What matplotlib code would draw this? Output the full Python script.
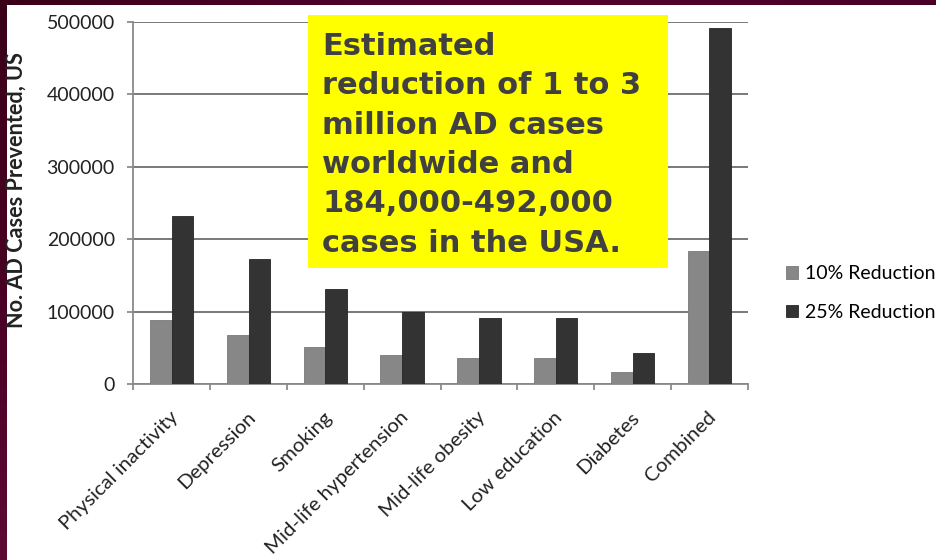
import matplotlib
matplotlib.use('Agg')
import matplotlib.pyplot as plt
import matplotlib.transforms as mtransforms
from matplotlib.patches import Rectangle
import numpy as np

categories = ['Physical inactivity', 'Depression', 'Smoking', 'Mid-life hypertension',
              'Mid-life obesity', 'Low education', 'Diabetes', 'Combined']
reduction_10 = [89000, 68000, 51000, 40000, 36000, 36000, 17000, 184000]
reduction_25 = [232000, 172000, 131000, 99000, 91000, 91000, 43000, 492000]
series_labels = ['10% Reduction', '25% Reduction']
yticks = [0, 100000, 200000, 300000, 400000, 500000]

note_lines = ['Estimated', 'reduction of 1 to 3', 'million AD cases',
              'worldwide and', '184,000-492,000', 'cases in the USA.']

W, H = 936, 560
fig = plt.figure(figsize=(W / 100, H / 100), dpi=100)
fig.patch.set_facecolor('white')

# maroon slide frame along the top and left edge
frame = fig.add_axes([0, 0, 1, 1], zorder=-5)
frame.axis('off')
grad = np.linspace(0, 1, 256).reshape(1, -1)
top_cmap = matplotlib.colors.LinearSegmentedColormap.from_list(
    'top', ['#3a0019', '#55002c', '#4a0026'])
left_cmap = matplotlib.colors.LinearSegmentedColormap.from_list(
    'left', ['#3a0019', '#4a0024', '#5c0a34'])
frame.imshow(grad, extent=(0, W, 5, 0), cmap=top_cmap, aspect='auto')
frame.imshow(grad.T, extent=(0, 7, H, 0), cmap=left_cmap, aspect='auto')
frame.set_xlim(0, W)
frame.set_ylim(H, 0)

ax = fig.add_axes([133.3 / W, 1 - 384 / H, (747.7 - 133.3) / W, (384 - 22) / H])
x = np.arange(len(categories))
bw = 0.282
ax.bar(x - bw / 2, reduction_10, bw, color='#878787', edgecolor='#7a7a7a', lw=0.6,
       label=series_labels[0], zorder=3)
ax.bar(x + bw / 2, reduction_25, bw, color='#333333', edgecolor='#262626', lw=0.6,
       label=series_labels[1], zorder=3)

ax.set_xlim(-0.5, len(categories) - 0.5)
ax.set_ylim(0, 500000)
ax.set_yticks(yticks)
ax.set_yticklabels([str(v) for v in yticks], fontfamily='Lato', fontsize=14, color='#222222')
ax.yaxis.grid(True, color='#555555', lw=1.1, zorder=0)
ax.set_axisbelow(True)

for s in ['top', 'right']:
    ax.spines[s].set_visible(False)
for s in ['left', 'bottom']:
    ax.spines[s].set_color('#8a8a8a')
    ax.spines[s].set_linewidth(1.3)
ax.tick_params(axis='y', length=4.3, width=1.1, color='#777777', pad=9)

# category labels on centres, tick marks on boundaries
ax.set_xticks(x)
ax.set_xticks(np.arange(-0.5, len(categories)), minor=True)
ax.tick_params(axis='x', which='major', length=0, pad=22)
ax.tick_params(axis='x', which='minor', length=4.3, width=1.1, color='#777777')
labels = ax.set_xticklabels(categories, rotation=45, ha='right', va='center',
                            rotation_mode='anchor', fontfamily='Lato', fontsize=14.7,
                            color='#222222')
shift = mtransforms.ScaledTranslation(4 / 100, 0, fig.dpi_scale_trans)
for lab in labels:
    lab.set_transform(lab.get_transform() + shift)

fig.text(16 / W, 1 - 190 / H, 'No. AD Cases Prevented, US', rotation=90,
         ha='center', va='center', fontfamily='Lato', fontweight='bold',
         fontsize=15.6, color='#222222')

ax.legend(loc='center left', bbox_to_anchor=(786 / W, 1 - 293 / H),
          bbox_transform=fig.transFigure, frameon=False, prop={'family': 'Lato', 'size': 14},
          handlelength=0.6, handleheight=0.6, handletextpad=0.4, labelspacing=1.1,
          borderpad=0, borderaxespad=0)

# yellow note box over the upper part of the chart
fig.patches.append(Rectangle((308 / W, 1 - 268 / H), (668 - 308) / W, (268 - 15) / H,
                             transform=fig.transFigure, facecolor='#ffff00',
                             edgecolor='none', zorder=10))
for i, line in enumerate(note_lines):
    fig.text(322 / W, 1 - (55 + i * 39.3) / H, line, ha='left', va='baseline',
             fontfamily='DejaVu Sans', fontweight='bold', fontsize=22,
             color='#404040', zorder=11)

fig.savefig('out.png', dpi=100, facecolor='white')
